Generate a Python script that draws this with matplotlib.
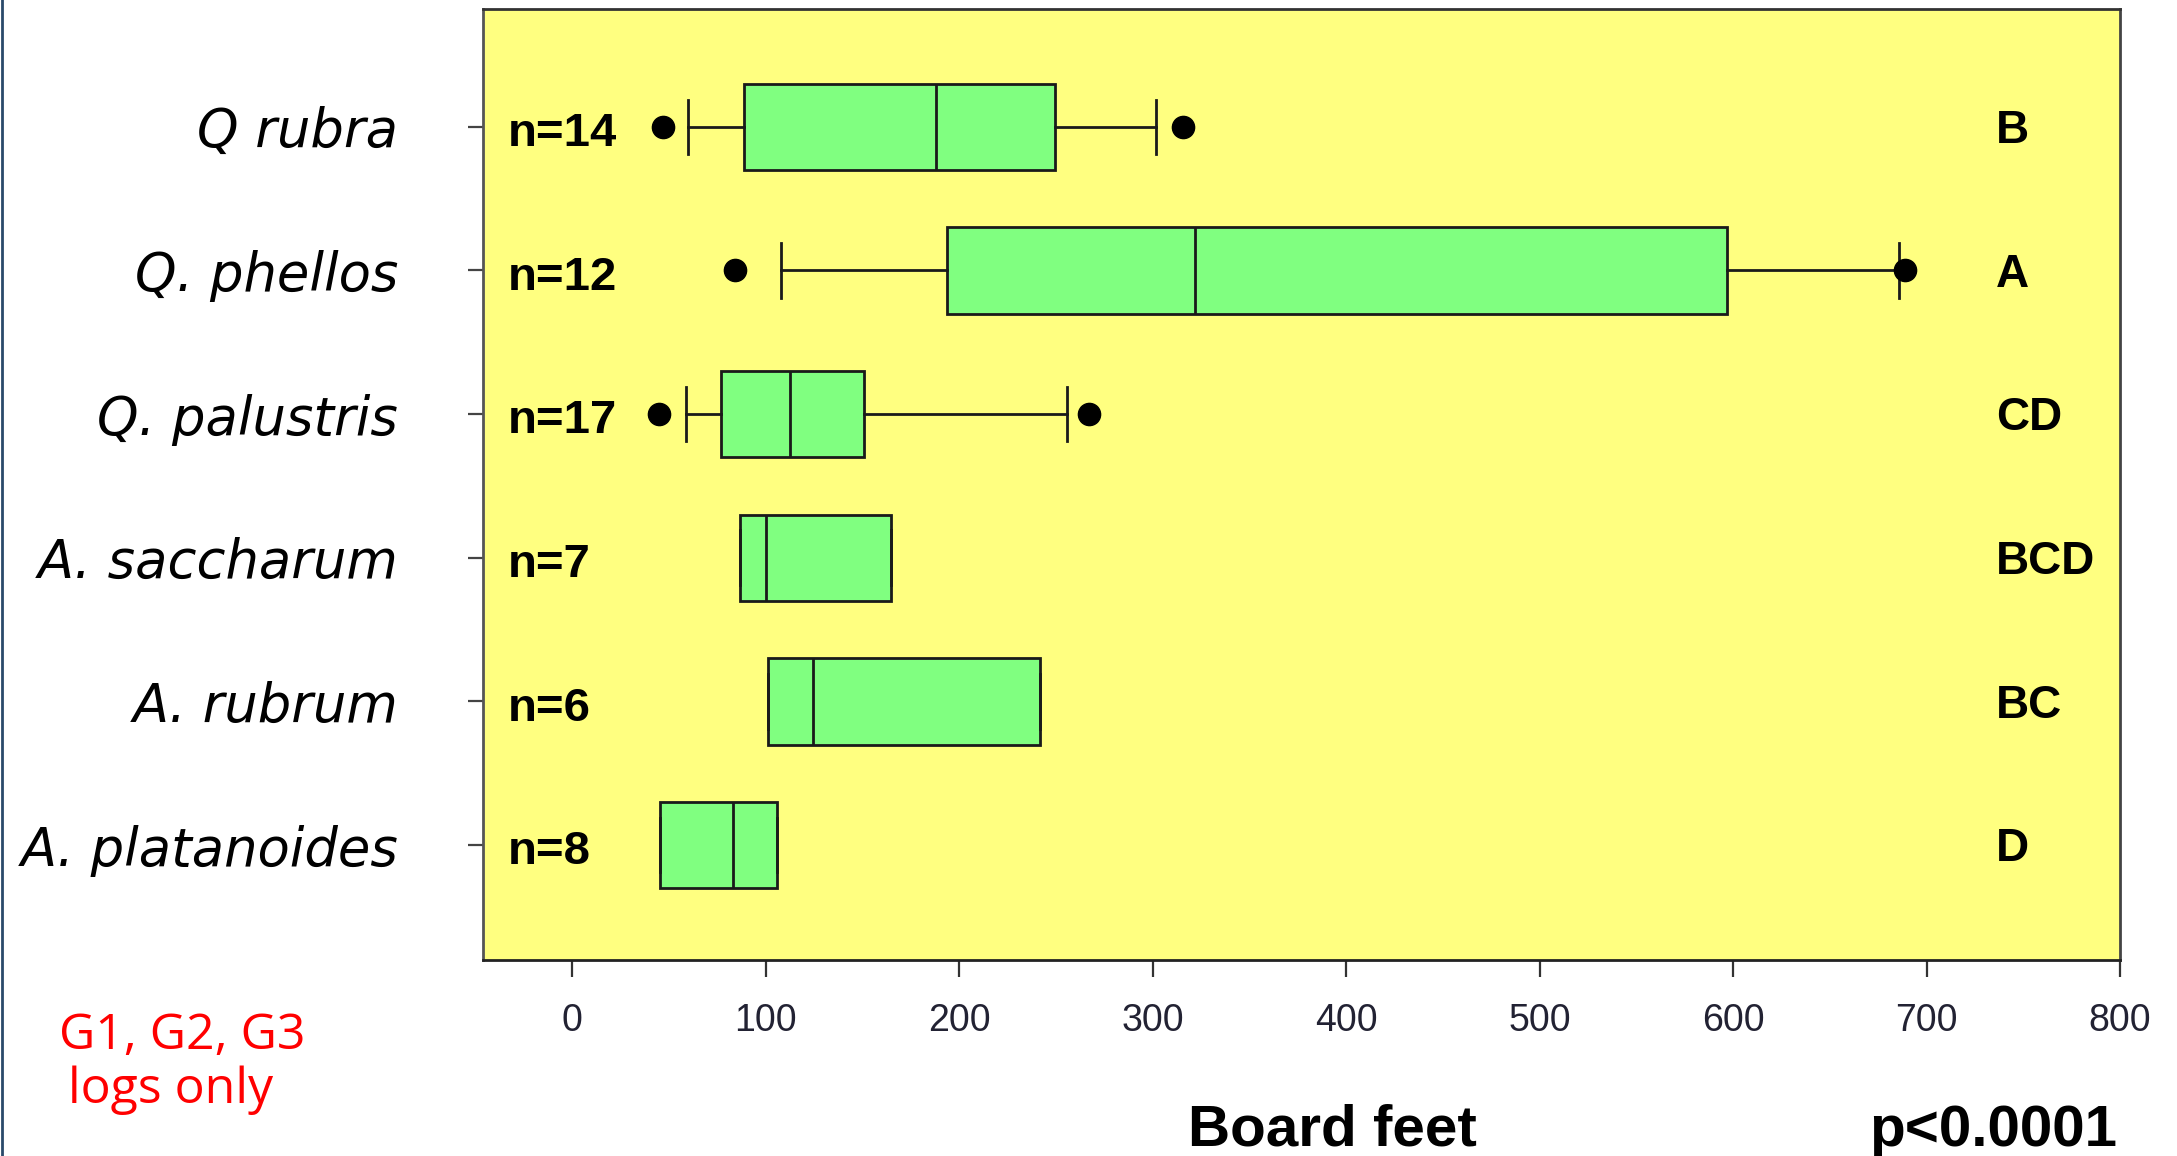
import matplotlib
matplotlib.use("Agg")
import matplotlib.pyplot as plt
from matplotlib.lines import Line2D

# ---- data ----
species = ['Q rubra', 'Q. phellos', 'Q. palustris', 'A. saccharum', 'A. rubrum', 'A. platanoides']
n_labels = ['n=14', 'n=12', 'n=17', 'n=7', 'n=6', 'n=8']
letters = ['B', 'A', 'CD', 'BCD', 'BC', 'D']
q1 = [89, 194, 77, 87, 101.5, 45.5]
medians = [188, 322, 112.5, 100, 124.5, 83]
q3 = [249.5, 597, 151, 165, 242, 106]
whisker_lo = [60, 108, 59, 87, 101.5, 45.5]
whisker_hi = [302, 686, 256, 165, 242, 106]
outliers = [[47, 316], [84, 689], [45, 267], [], [], []]
x_ticks = [0, 100, 200, 300, 400, 500, 600, 700, 800]

W, H = 2177, 1156
fig = plt.figure(figsize=(W / 100, H / 100), dpi=100)
fig.patch.set_facecolor('white')
ax = fig.add_axes([483 / W, 1 - 960 / H, (2120 - 483) / W, (960 - 9) / H])
ax.set_facecolor('#FFFF80')

positions = list(range(1, len(species) + 1))
stats = []
for i in range(len(species)):
    stats.append(dict(med=medians[i], q1=q1[i], q3=q3[i],
                      whislo=whisker_lo[i], whishi=whisker_hi[i],
                      fliers=outliers[i], label=species[i]))

ax.bxp(stats, positions=positions, orientation='horizontal', widths=0.6,
       capwidths=0.38, patch_artist=True, showfliers=True,
       boxprops=dict(facecolor='#80FF80', edgecolor='#1a1a1a', linewidth=2.0),
       medianprops=dict(color='#1a1a1a', linewidth=2.0),
       whiskerprops=dict(color='#1a1a1a', linewidth=2.0),
       capprops=dict(color='#1a1a1a', linewidth=2.0),
       flierprops=dict(marker='o', markerfacecolor='black', markeredgecolor='black',
                       markersize=16))

ax.set_xlim(-46, 800)
ax.set_ylim(6.8, 0.18)

ax.set_xticks(x_ticks)
ax.set_xticklabels([str(t) for t in x_ticks],
                   fontfamily=['Liberation Sans Narrow', 'Liberation Sans', 'DejaVu Sans'],
                   fontsize=27, color='#222233')
ax.tick_params(axis='x', length=12, width=1.6, color='#333333', pad=19)

ax.set_yticks(positions)
ax.set_yticklabels(species, fontfamily='DejaVu Sans', fontstyle='italic',
                   fontsize=38, color='black')
ax.tick_params(axis='y', length=11, width=1.6, color='#444444', pad=50)

for side, col in [('left', '#555555'), ('bottom', '#222222'), ('top', '#333333'), ('right', '#444444')]:
    ax.spines[side].set_color(col)
    ax.spines[side].set_linewidth(2)

bold_fam = ['Liberation Sans', 'DejaVu Sans']
for i, p in enumerate(positions):
    ax.text(-33, p + 0.05, n_labels[i], ha='left', va='center', fontsize=34,
            fontweight='bold', fontfamily=bold_fam, color='black')
    ax.text(736, p + 0.03, letters[i], ha='left', va='center', fontsize=33,
            fontweight='bold', fontfamily=bold_fam, color='black')

fig.text(1332 / W, 1 - 1146 / H, 'Board feet', ha='center', va='baseline',
         fontsize=42, fontweight='bold', fontfamily=bold_fam, color='black')
fig.text(2117 / W, 1 - 1146 / H, 'p<0.0001', ha='right', va='baseline',
         fontsize=42, fontweight='bold', fontfamily=bold_fam, color='black')

fig.text(182 / W, 1 - 1049 / H, 'G1, G2, G3', ha='center', va='baseline',
         fontsize=36, fontfamily=['Open Sans', 'DejaVu Sans'], color='#FF0000')
fig.text(171 / W, 1 - 1103 / H, 'logs only', ha='center', va='baseline',
         fontsize=36, fontfamily=['Open Sans', 'DejaVu Sans'], color='#FF0000')

fig.add_artist(Line2D([0.0008, 0.0008], [0, 1], transform=fig.transFigure,
                      color='#2a4a6a', linewidth=2))

fig.savefig('out.png', dpi=100)
